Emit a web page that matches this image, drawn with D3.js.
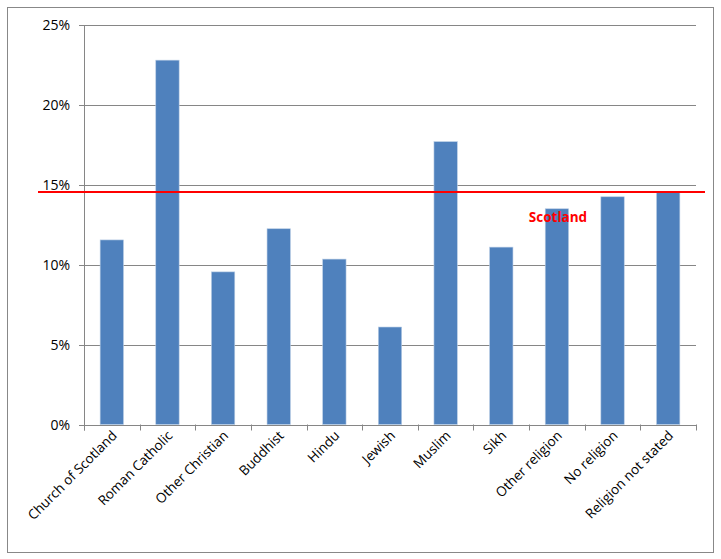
<!DOCTYPE html>
<html><head><meta charset="utf-8">
<script src="https://cdn.jsdelivr.net/npm/d3@7"></script>
<style>body{margin:0;background:#fff}</style>
</head><body>
<script>
const categories = ["Church of Scotland","Roman Catholic","Other Christian","Buddhist","Hindu","Jewish","Muslim","Sikh","Other religion","No religion","Religion not stated"];
const values = [11.55,22.8,9.55,12.25,10.35,6.1,17.7,11.1,13.5,14.25,14.55];
const yTicks = [0,5,10,15,20,25];
const scotland = 14.55;

const W = 721, H = 559;
const margin = { top: 25, right: 25, bottom: 135, left: 84 };
const svg = d3.select("body").append("svg").attr("width", W).attr("height", H)
  .style("font-family", "'Open Sans', sans-serif");

svg.append("rect").attr("x", 7.5).attr("y", 7.5).attr("width", 706).attr("height", 545)
  .attr("fill", "#fff").attr("stroke", "#888").attr("stroke-width", 1);

const x = d3.scaleBand().domain(categories).range([margin.left, W - margin.right]).paddingInner(0.58).paddingOuter(0.29);
const y = d3.scaleLinear().domain([0, 25]).range([H - margin.bottom + 0.5, margin.top]);

// gridlines
svg.append("g").selectAll("line").data(yTicks).join("line")
  .attr("x1", margin.left - 5).attr("x2", W - margin.right)
  .attr("y1", d => Math.round(y(d)) + 0.5).attr("y2", d => Math.round(y(d)) + 0.5)
  .attr("stroke", "#868686");

svg.append("g").selectAll("text").data(yTicks).join("text")
  .attr("x", margin.left - 14).attr("y", d => y(d) + 5)
  .attr("text-anchor", "end").attr("font-size", 14).attr("fill", "#000")
  .text(d => d + "%");

// bars
svg.append("g").selectAll("rect").data(values).join("rect")
  .attr("x", (d, i) => x(categories[i])).attr("width", x.bandwidth())
  .attr("y", d => y(d)).attr("height", d => y(0) - y(d))
  .attr("fill", "#4f81bd").attr("stroke", "#b9cde5").attr("stroke-width", 0.6);

// axes
svg.append("line").attr("x1", margin.left + 0.5).attr("x2", margin.left + 0.5)
  .attr("y1", margin.top).attr("y2", y(0) + 6).attr("stroke", "#868686");
const step = x.step();
const bounds = d3.range(categories.length + 1).map(i => margin.left + i * step);
svg.append("g").selectAll("line").data(bounds).join("line")
  .attr("x1", d => Math.round(d) + 0.5).attr("x2", d => Math.round(d) + 0.5)
  .attr("y1", y(0)).attr("y2", y(0) + 6).attr("stroke", "#868686");

svg.append("g").selectAll("text").data(categories).join("text")
  .attr("transform", d => `translate(${x(d) + x.bandwidth() / 2 + 6},${y(0) + 12}) rotate(-45)`)
  .attr("text-anchor", "end").attr("font-size", 13.5).attr("fill", "#000")
  .text(d => d);

// Scotland line
svg.append("line").attr("x1", 38).attr("x2", 705)
  .attr("y1", y(scotland)).attr("y2", y(scotland))
  .attr("stroke", "#ff0000").attr("stroke-width", 2);
svg.append("text").attr("x", 558).attr("y", 222).attr("text-anchor", "middle")
  .attr("font-size", 13.5).attr("font-weight", "bold").attr("fill", "#ff0000").text("Scotland");
</script>
</body></html>
